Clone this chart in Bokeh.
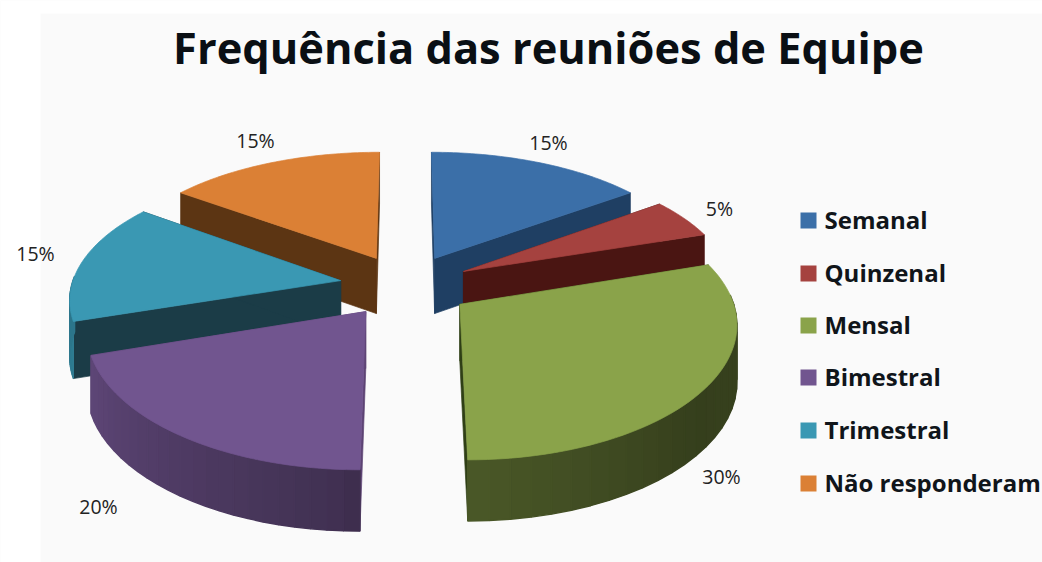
import numpy as np
from bokeh.embed import file_html
from bokeh.models import Range1d
from bokeh.plotting import figure
from bokeh.resources import INLINE
from bokeh.core.properties import value

# ---- data ----
categories = ["Semanal", "Quinzenal", "Mensal", "Bimestral", "Trimestral", "Não responderam"]
percent = [15, 5, 30, 20, 15, 15]
percent_labels = ["15%", "5%", "30%", "20%", "15%", "15%"]
top_colors = ["#3b6fa8", "#a5423f", "#8aa34a", "#71558f", "#3a98b3", "#db8035"]
side_colors = ["#1f3f63", "#4a1512", "#2f3f16", "#5d4474", "#1b3c47", "#5c3513"]
title_text = "Frequência das reuniões de Equipe"

# ---- page and pie geometry (page pixels of the reference) ----
W, H = 1042, 562
CX, CY = 405.0, 285.0
RX, RY = 269.0, 128.0
PERSP = 0.14
PERSP_X = 0.125
EXPLODE = 0.245
DEPTH = 56.0
paint_order = [5, 0, 1, 4, 2, 3]
label_xy = [(548, 142), (719, 208), (721, 476), (98, 506), (35, 253), (255, 140)]
legend_y = [220, 273, 325, 377, 430, 483]

p = figure(width=W, height=H, output_backend="svg", toolbar_location=None,
           x_range=Range1d(0, W), y_range=Range1d(H, 0),
           min_border=0, outline_line_color=None, background_fill_color="#fafafa",
           border_fill_color="#ffffff")
p.axis.visible = False
p.grid.visible = False

# white strips of the scan's edge
p.quad(left=[0], right=[40], top=[0], bottom=[H], fill_color="#ffffff", line_color=None)
p.quad(left=[0], right=[W], top=[0], bottom=[13], fill_color="#ffffff", line_color=None)


def project(u, v, drop=0.0):
    v = np.asarray(v)
    w = 1 + PERSP * v
    return CX + RX * np.asarray(u) / (1 + PERSP_X * v), CY - RY * v / w + drop / np.sqrt(w)


def shade(theta):
    return np.interp(theta, [0, 100, 130, 180, 185, 250, 260, 360],
                     [.6, .40, .39, .54, .58, .83, .80, .6])


def rgb(hexstr, f=1.0):
    vals = [int(hexstr[i:i + 2], 16) for i in (1, 3, 5)]
    return "#%02x%02x%02x" % tuple(min(255, int(c * f)) for c in vals)


def draw(xs, ys, color, lw=0.7):
    p.patch(list(xs), list(ys), fill_color=color, line_color=color, line_width=lw)


# slice limits from the values
edges = np.cumsum([0] + percent) * 3.6
for i in paint_order:
    a0, a1 = edges[i], edges[i + 1]
    mid = np.radians((a0 + a1) / 2)
    ou, ov = EXPLODE * np.sin(mid), EXPLODE * np.cos(mid)
    th = np.radians(np.linspace(a0, a1, 61))
    u, v = ou + np.sin(th), ov + np.cos(th)
    ax, ay = project(ou, ov)
    bx, by = project(ou, ov, DEPTH)
    # flat cut faces
    for e in (0, -1):
        x0, y0 = project(u[e], v[e])
        x1, y1 = project(u[e], v[e], DEPTH)
        draw([ax, x0, x1, bx], [ay, y0, y1, by], side_colors[i])
    # rim, only where it faces the viewer, shaded in small strips
    ath = np.radians(np.linspace(max(a0, 86), min(a1, 272), 25)) if min(a1, 272) > max(a0, 86) else []
    if len(ath):
        ru, rv = ou + np.sin(ath), ov + np.cos(ath)
        xt, yt = project(ru, rv)
        xb, yb = project(ru, rv, DEPTH)
        for k in range(len(ath) - 1):
            f = float(shade(np.degrees((ath[k] + ath[k + 1]) / 2)))
            draw([xt[k], xt[k + 1], xb[k + 1], xb[k]], [yt[k], yt[k + 1], yb[k + 1], yb[k]],
                 rgb(top_colors[i], f), 1.4)
    # top face
    xt, yt = project(u, v)
    draw(np.r_[ax, xt], np.r_[ay, yt], top_colors[i])

# percent labels
p.text([q[0] for q in label_xy], [q[1] for q in label_xy], text=percent_labels,
       text_font=value("Open Sans"), text_font_size="19.5px", text_color="#222222",
       text_align="center", text_baseline="middle")

# title
p.text([548], [47], text=[title_text], text_font=value("Open Sans"), text_font_size="43.4px",
       text_font_style="bold", text_color="#0a0f14", text_align="center", text_baseline="middle")

# legend
p.scatter([808] * 6, legend_y, marker="square", size=16, fill_color=top_colors, line_color=None)
p.text([824] * 6, [y - 1 for y in legend_y], text=categories, text_font=value("Open Sans"),
       text_font_size="24px", text_font_style="bold", text_color="#10151a",
       text_align="left", text_baseline="middle")

open("out.html", "w").write(file_html(p, INLINE))
